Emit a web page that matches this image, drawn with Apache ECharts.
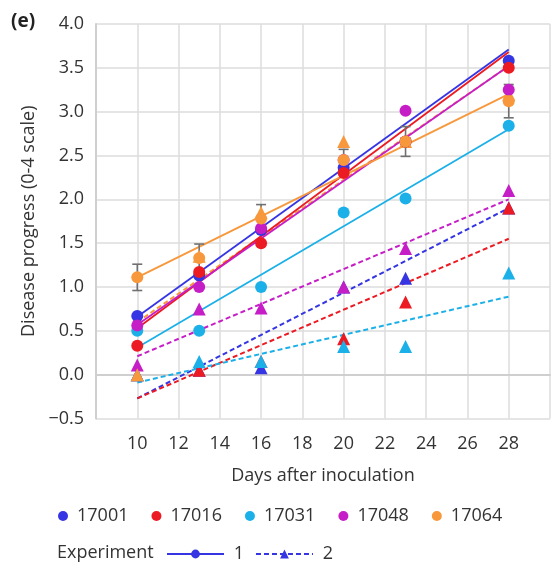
<!DOCTYPE html>
<html>
<head>
<meta charset="utf-8">
<script src="https://cdn.jsdelivr.net/npm/echarts@6/dist/echarts.min.js"></script>
<style>
html,body{margin:0;padding:0;background:#fff;}
#chart{width:553px;height:565px;}
</style>
</head>
<body>
<div id="chart"></div>
<script>
// ---- data ----
const days = [10, 13, 16, 20, 23, 28];
const cultivars = ['17001', '17016', '17031', '17048', '17064'];
const xTicks = [10, 12, 14, 16, 18, 20, 22, 24, 26, 28];

// Experiment 1 (circles)
const exp1_17001 = [0.67, 1.13, 1.65, 2.36, 2.66, 3.58];
const exp1_17016 = [0.33, 1.17, 1.50, 2.30, 2.66, 3.50];
const exp1_17031 = [0.50, 0.50, 1.00, 1.85, 2.01, 2.84];
const exp1_17048 = [0.56, 1.00, 1.67, 2.45, 3.01, 3.25];
const exp1_17064 = [1.11, 1.33, 1.78, 2.45, 2.66, 3.12];
// Experiment 2 (triangles)
const exp2_17001 = [0.00, 0.05, 0.08, 1.00, 1.10, 1.90];
const exp2_17016 = [0.00, 0.05, 0.15, 0.41, 0.83, 1.90];
const exp2_17031 = [0.00, 0.15, 0.15, 0.32, 0.32, 1.16];
const exp2_17048 = [0.11, 0.75, 0.76, 1.00, 1.44, 2.10];
const exp2_17064 = [0.00, 1.35, 1.85, 2.66, 2.66, 3.20];
// error (17064, experiment 1)
const err_17064 = [0.15, 0.16, 0.16, 0.12, 0.17, 0.19];

// fitted trend lines: values at day 10 and day 28
const fitDays = [10, 28];
const fit1_17001 = [0.66, 3.71];
const fit1_17016 = [0.53, 3.68];
const fit1_17031 = [0.31, 2.80];
const fit1_17048 = [0.57, 3.52];
const fit1_17064 = [1.11, 3.20];
const fit2_17001 = [-0.27, 1.90];
const fit2_17016 = [-0.27, 1.55];
const fit2_17031 = [-0.09, 0.89];
const fit2_17048 = [0.21, 2.00];
const fit2_17064 = [0.60, 3.52];

// ---- styling ----
const colors = ['#3535e3', '#ec1a22', '#1cb0e8', '#c61ec6', '#f8983c'];
const FONT = 'Open Sans';
const FS = 18;
const exp1 = [exp1_17001, exp1_17016, exp1_17031, exp1_17048, exp1_17064];
const exp2 = [exp2_17001, exp2_17016, exp2_17031, exp2_17048, exp2_17064];
const fit1 = [fit1_17001, fit1_17016, fit1_17031, fit1_17048, fit1_17064];
const fit2 = [fit2_17001, fit2_17016, fit2_17031, fit2_17048, fit2_17064];
const pairs = (xs, ys) => xs.map((x, i) => [x, ys[i]]);

const series = [];
// dashed trend lines (exp 2)
fit2.forEach((f, i) => series.push({
  name: 'fit2 ' + cultivars[i], type: 'line', data: pairs(fitDays, f),
  symbol: 'none', silent: true, z: 2,
  lineStyle: { color: colors[i], width: 2, type: [5, 3] }
}));
// solid trend lines (exp 1)
fit1.forEach((f, i) => series.push({
  name: 'fit1 ' + cultivars[i], type: 'line', data: pairs(fitDays, f),
  symbol: 'none', silent: true, z: 2,
  lineStyle: { color: colors[i], width: 1.8 }
}));
// error bars
series.push({
  type: 'custom', name: 'err', z: 3,
  data: days.map((d, i) => [d, exp1_17064[i], err_17064[i]]),
  encode: { x: 0, y: 1 },
  renderItem: function (params, api) {
    const x = api.value(0), y = api.value(1), e = api.value(2);
    const t = api.coord([x, y + e]);
    const b = api.coord([x, y - e]);
    const w = 5;
    const st = { stroke: '#707070', lineWidth: 1.6 };
    return { type: 'group', children: [
      { type: 'line', shape: { x1: t[0], y1: t[1], x2: b[0], y2: b[1] }, style: st },
      { type: 'line', shape: { x1: t[0] - w, y1: t[1], x2: t[0] + w, y2: t[1] }, style: st },
      { type: 'line', shape: { x1: b[0] - w, y1: b[1], x2: b[0] + w, y2: b[1] }, style: st }
    ]};
  }
});
// triangles (exp 2)
exp2.forEach((v, i) => series.push({
  name: 'exp2 ' + cultivars[i], type: 'scatter', data: pairs(days, v),
  symbol: 'triangle', symbolSize: 13, z: 4,
  itemStyle: { color: colors[i], opacity: 1 }
}));
// circles (exp 1)
exp1.forEach((v, i) => series.push({
  name: cultivars[i], type: 'scatter', data: pairs(days, v),
  symbol: 'circle', symbolSize: 12, z: 5,
  itemStyle: { color: colors[i], opacity: 1 }
}));
// legend-only series for experiment key
series.push({ name: '1', type: 'line', data: [], symbol: 'circle',
  itemStyle: { color: '#3535e3' }, lineStyle: { color: '#3535e3', width: 2 } });
series.push({ name: '2', type: 'line', data: [], symbol: 'triangle',
  itemStyle: { color: '#3535e3' }, lineStyle: { color: '#3535e3', width: 2, type: [5, 3] } });

const chart = echarts.init(document.getElementById('chart'), null, { renderer: 'canvas' });
chart.setOption({
  animation: false,
  backgroundColor: '#fff',
  textStyle: { fontFamily: FONT },
  grid: { left: 96, top: 24, width: 462, height: 394.5, containLabel: false },
  xAxis: {
    type: 'value', min: 8, max: 30, interval: 2,
    name: 'Days after inoculation', nameLocation: 'middle', nameGap: 48,
    nameTextStyle: { fontSize: FS, color: '#333', fontFamily: FONT },
    axisLine: { show: true, lineStyle: { color: '#cfcfcf', width: 2 } },
    axisTick: { show: false },
    axisLabel: { fontSize: FS, color: '#333', margin: 16, fontFamily: FONT,
      formatter: v => (xTicks.indexOf(v) >= 0 ? String(v) : '') },
    splitLine: { show: true, lineStyle: { color: '#dcdcdc', width: 1.5 } }
  },
  yAxis: {
    type: 'value', min: -0.5, max: 4, interval: 0.5,
    name: 'Disease progress (0-4 scale)', nameLocation: 'middle', nameGap: 46,
    nameTextStyle: { fontSize: FS, color: '#333', fontFamily: FONT },
    axisLine: { show: true, lineStyle: { color: '#cfcfcf', width: 2 } },
    axisTick: { show: false },
    axisLabel: { fontSize: FS, color: '#333', margin: 12, fontFamily: FONT,
      formatter: v => (v < 0 ? '\u2212' + Math.abs(v).toFixed(1) : v.toFixed(1)) },
    splitLine: { show: true, lineStyle: { color: '#dcdcdc', width: 1.5 } }
  },
  legend: [
    {
      data: cultivars, left: 58, top: 507, padding: 0, selectedMode: false,
      icon: 'circle', itemWidth: 18, itemHeight: 10, itemGap: 23,
      textStyle: { fontSize: FS, color: '#333', fontFamily: FONT }
    },
    {
      data: ['1', '2'], left: 166, top: 545, padding: 0, selectedMode: false,
      itemWidth: 57, itemHeight: 11, itemGap: 11,
      formatter: n => ' ' + n,
      textStyle: { fontSize: FS, color: '#333', fontFamily: FONT }
    }
  ],
  graphic: [
    { type: 'text', left: 11, top: 12,
      style: { text: '(e)', font: 'bold 19px "Open Sans"', fill: '#222' } },
    { type: 'text', left: 57, top: 544,
      style: { text: 'Experiment', font: '18px "Open Sans"', fill: '#333' } }
  ],
  series: series
});
</script>
</body>
</html>
